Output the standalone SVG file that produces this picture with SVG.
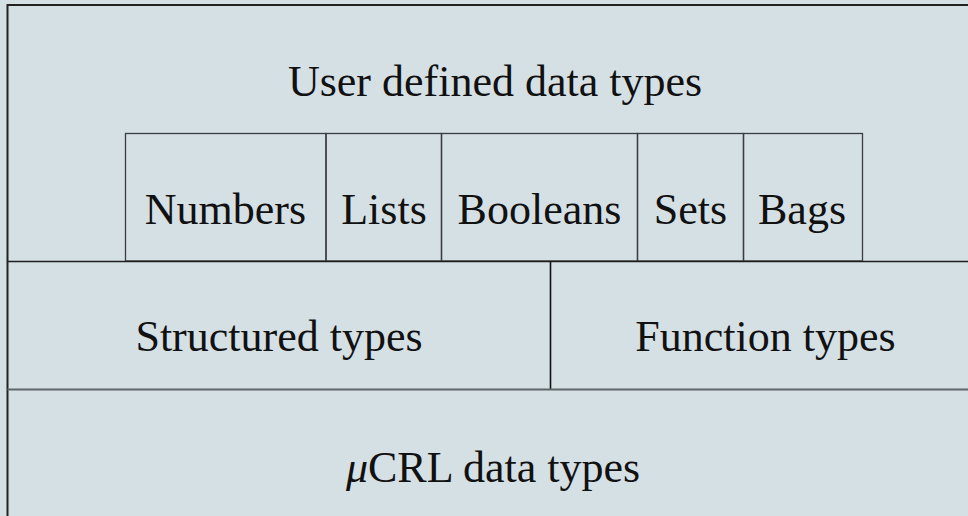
<svg xmlns="http://www.w3.org/2000/svg" width="968" height="516" viewBox="0 0 968 516">
<style>
.lbl{font-family:"Liberation Serif","Times New Roman",serif;font-size:44px;fill:#111;text-anchor:middle}
.box{fill:none;stroke:#3a3d3f;stroke-width:1.3}
.frame{fill:none;stroke:#222;stroke-width:2}
</style>
<rect x="0" y="0" width="968" height="516" fill="#d5e0e5"/>
<g id="user-defined">
<path class="frame" d="M7.5,520 V5 H975"/>
<text class="lbl" x="495" y="96">User defined data types</text>
</g>
<g id="numbers">
<rect class="box" x="125.5" y="133.5" width="200.5" height="127.5"/>
<text class="lbl" x="225.5" y="224">Numbers</text>
</g>
<g id="lists">
<rect class="box" x="326" y="133.5" width="115.5" height="127.5"/>
<text class="lbl" x="384" y="224">Lists</text>
</g>
<g id="booleans">
<rect class="box" x="441.5" y="133.5" width="196" height="127.5"/>
<text class="lbl" x="539.5" y="224">Booleans</text>
</g>
<g id="sets">
<rect class="box" x="637.5" y="133.5" width="106" height="127.5"/>
<text class="lbl" x="690.5" y="224">Sets</text>
</g>
<g id="bags">
<rect class="box" x="743.5" y="133.5" width="119" height="127.5"/>
<text class="lbl" x="802" y="224">Bags</text>
</g>
<g id="structured">
<line x1="7.5" y1="261.5" x2="975" y2="261.5" stroke="#1e1e1e" stroke-width="1.6"/>
<text class="lbl" x="279" y="351">Structured types</text>
</g>
<g id="function">
<line x1="550.5" y1="261.5" x2="550.5" y2="389" stroke="#111" stroke-width="1.6"/>
<text class="lbl" x="765.5" y="351">Function types</text>
</g>
<g id="mucrl">
<line x1="7.5" y1="389.5" x2="975" y2="389.5" stroke="#5f6669" stroke-width="2"/>
<text class="lbl" x="493" y="482"><tspan font-style="italic">μ</tspan>CRL data types</text>
</g>
<g id="connectors"/>
</svg>
